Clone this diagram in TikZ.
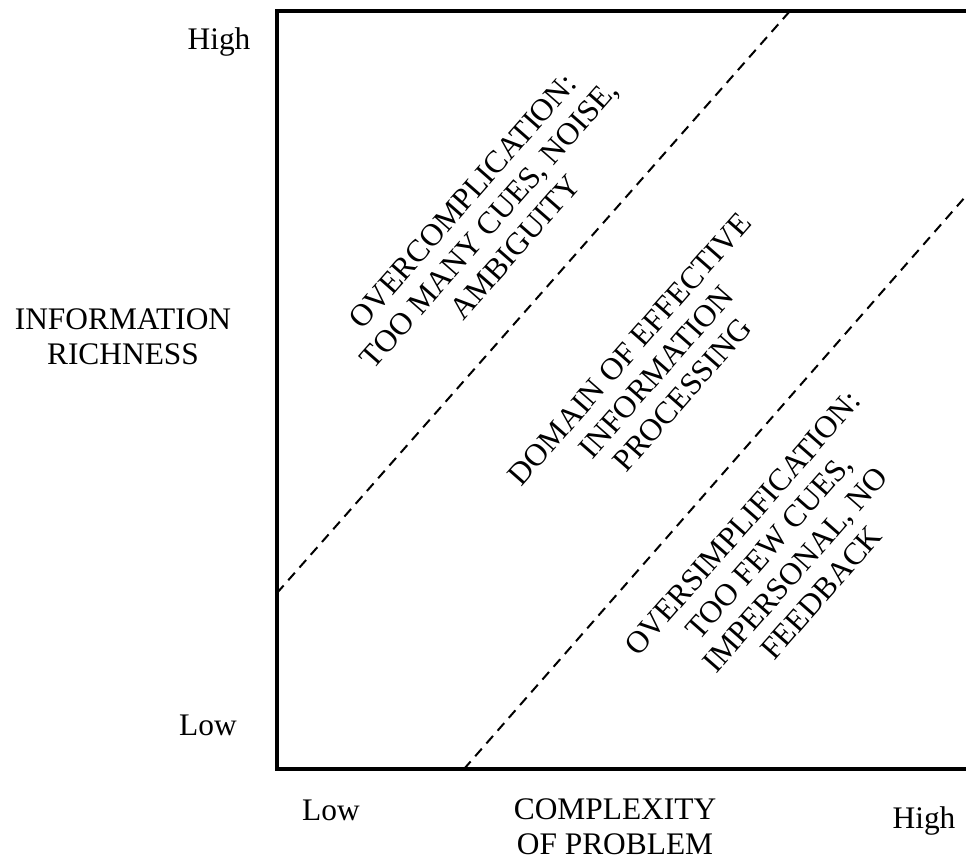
\documentclass[tikz,border=0pt]{standalone}
\usepackage{fontspec}
\setmainfont{Liberation Serif}

\tikzset{
    label text/.style={font=\fontsize{31.4}{35}\selectfont, inner sep=0pt, align=center},
    zone text/.style={label text, rotate=48.7},
    axis line/.style={line width=4pt, line join=miter},
    border line/.style={line width=2pt, dash pattern=on 10pt off 7pt}
}

\begin{document}
\begin{tikzpicture}[x=1pt, y=-1pt]
        \useasboundingbox (0, 0) rectangle (966, 859);

        % Axes
        \coordinate (top end) at (966, 11);
        \coordinate (corner) at (277, 11);
        \coordinate (origin) at (277, 769);
        \coordinate (bottom end) at (966, 769);
        \draw [axis line] (top end) -- (corner) -- (origin) -- (bottom end);

        % Dashed boundaries
        \coordinate (upper start) at (277, 593);
        \coordinate (upper end) at (790, 11);
        \coordinate (lower start) at (464, 769);
        \coordinate (lower end) at (966, 196);
        \draw [border line] (upper start) -- (upper end);
        \draw [border line] (lower start) -- (lower end);

        % Axis labels
        \node [label text, anchor=base] (y high) at (219, 50) {High};
        \node [label text] (y title) at (123, 337) {INFORMATION\\RICHNESS};
        \node [label text, anchor=base] (y low) at (208, 735) {Low};
        \node [label text, anchor=base] (x low) at (331, 820) {Low};
        \node [label text] (x title) at (615, 827) {COMPLEXITY\\OF PROBLEM};
        \node [label text, anchor=base] (x high) at (924, 828) {High};

        % Regions
        \node [zone text] (over) at (489, 224) {OVERCOMPLICATION:\\TOO MANY CUES, NOISE,\\AMBIGUITY};
        \node [zone text] (domain) at (656, 372) {DOMAIN OF EFFECTIVE\\INFORMATION\\PROCESSING};
        \node [zone text] (under) at (782, 558) {OVERSIMPLIFICATION:\\TOO FEW CUES,\\IMPERSONAL, NO\\FEEDBACK};
    \end{tikzpicture}
\end{document}
